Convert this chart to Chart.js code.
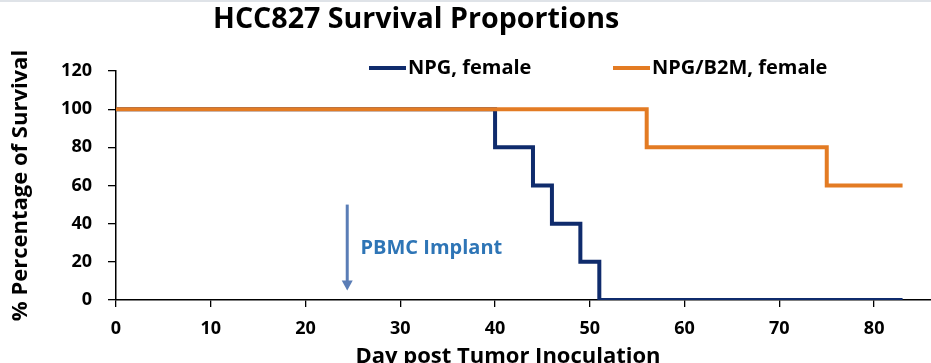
<!DOCTYPE html>
<html><head><meta charset="utf-8">
<script src="https://cdn.jsdelivr.net/npm/chart.js@4/dist/chart.umd.min.js"></script>
<style>
html,body{margin:0;padding:0;overflow:hidden;background:#fff}
#wrap{width:931px;height:374px;position:relative}
canvas{display:block}
</style>
</head><body><div id="wrap"><canvas id="c" width="931" height="374"></canvas></div>
<script>
const chartTitle = 'HCC827 Survival Proportions';
const xAxisTitle = 'Day post Tumor Inoculation';
const yAxisTitle = '% Percentage of Survival';
const seriesNames = ['NPG, female', 'NPG/B2M, female'];
const npgDays = [0, 40, 44, 46, 49, 51, 83];
const npgSurvival = [100, 80, 60, 40, 20, 0, 0];
const b2mDays = [0, 56, 75, 83];
const b2mSurvival = [100, 80, 60, 60];
const xTicks = [0, 10, 20, 30, 40, 50, 60, 70, 80];
const yTicks = [0, 20, 40, 60, 80, 100, 120];
const annotationText = 'PBMC Implant';
const arrowDay = 24.4;
const arrowFromValue = 50;
const arrowToValue = 5;
const annotationDay = 25.8;
const annotationValue = 27;

const BLUE = '#0f2b6c';
const ORANGE = '#e37b23';
const FONT = '"Open Sans", "DejaVu Sans", sans-serif';

const overlay = {
  id: 'overlay',
  beforeDraw(chart) {
    const ctx = chart.ctx;
    ctx.save();
    ctx.fillStyle = '#ffffff';
    ctx.fillRect(0, 0, chart.width, chart.height);
    ctx.fillStyle = '#dfe3e8';
    ctx.fillRect(0, 0, chart.width, 2);
    ctx.restore();
  },
  afterDraw(chart) {
    const ctx = chart.ctx;
    const xs = chart.scales.x, ys = chart.scales.y;
    ctx.save();
    // title
    ctx.fillStyle = '#000';
    ctx.textAlign = 'left';
    ctx.textBaseline = 'alphabetic';
    ctx.font = 'bold 28.6px ' + FONT;
    ctx.fillText(chartTitle, 213, 28);
    // legend
    ctx.font = 'bold 20px ' + FONT;
    ctx.textBaseline = 'middle';
    const items = [
      {x0: 369, x1: 406, color: chart.data.datasets[0].borderColor, text: chart.data.datasets[0].label},
      {x0: 613, x1: 650, color: chart.data.datasets[1].borderColor, text: chart.data.datasets[1].label}
    ];
    items.forEach(it => {
      ctx.strokeStyle = it.color;
      ctx.lineWidth = 4;
      ctx.beginPath();
      ctx.moveTo(it.x0, 68);
      ctx.lineTo(it.x1, 68);
      ctx.stroke();
      ctx.fillStyle = '#000';
      ctx.fillText(it.text, it.x1 + 2, 68);
    });
    // x axis title
    ctx.font = 'bold 22px ' + FONT;
    ctx.textAlign = 'center';
    ctx.textBaseline = 'alphabetic';
    ctx.fillText(xAxisTitle, 508, 363);
    // arrow
    const ax = xs.getPixelForValue(arrowDay);
    const ay1 = ys.getPixelForValue(arrowFromValue);
    const ay2 = ys.getPixelForValue(arrowToValue);
    ctx.strokeStyle = '#5a7db6';
    ctx.fillStyle = '#5a7db6';
    ctx.lineWidth = 3;
    ctx.beginPath();
    ctx.moveTo(ax, ay1);
    ctx.lineTo(ax, ay2 - 9);
    ctx.stroke();
    ctx.beginPath();
    ctx.moveTo(ax - 5.5, ay2 - 10);
    ctx.lineTo(ax + 5.5, ay2 - 10);
    ctx.lineTo(ax, ay2);
    ctx.closePath();
    ctx.fill();
    // annotation text
    ctx.fillStyle = '#2e75b6';
    ctx.font = 'bold 20px ' + FONT;
    ctx.textAlign = 'left';
    ctx.textBaseline = 'middle';
    ctx.fillText(annotationText, xs.getPixelForValue(annotationDay), ys.getPixelForValue(annotationValue));
    ctx.restore();
  }
};

const toPoints = (xsArr, ysArr) => xsArr.map((v, i) => ({x: v, y: ysArr[i]}));

new Chart(document.getElementById('c'), {
  type: 'line',
  data: {
    datasets: [
      {label: seriesNames[0], data: toPoints(npgDays, npgSurvival), borderColor: BLUE, backgroundColor: BLUE,
       borderWidth: 4, stepped: true, pointRadius: 0, fill: false, order: 1, borderCapStyle: 'butt', borderJoinStyle: 'miter'},
      {label: seriesNames[1], data: toPoints(b2mDays, b2mSurvival), borderColor: ORANGE, backgroundColor: ORANGE,
       borderWidth: 4, stepped: true, pointRadius: 0, fill: false, order: 0, borderCapStyle: 'butt', borderJoinStyle: 'miter'}
    ]
  },
  options: {
    responsive: false,
    animation: false,
    layout: {padding: {top: 71, left: 0, right: 0, bottom: 0}},
    plugins: {legend: {display: false}, title: {display: false}, tooltip: {enabled: false}},
    scales: {
      x: {
        type: 'linear', min: 0, max: 86,
        afterBuildTicks: axis => { axis.ticks = xTicks.map(v => ({value: v})); },
        afterFit: axis => { axis.height = 74; },
        grid: {drawOnChartArea: false, drawTicks: true, tickLength: 7, color: '#000', lineWidth: 1.3},
        border: {display: true, color: '#000', width: 1.5},
        ticks: {color: '#000', font: {family: FONT, size: 18, weight: 'bold'}, padding: 11, maxRotation: 0, autoSkip: false},
        title: {display: false}
      },
      y: {
        min: 0, max: 120,
        afterBuildTicks: axis => { axis.ticks = yTicks.map(v => ({value: v})); },
        afterFit: axis => { axis.width = 116; },
        grid: {drawOnChartArea: false, drawTicks: true, tickLength: 8, color: '#000', lineWidth: 1.3},
        border: {display: true, color: '#000', width: 1.5},
        ticks: {color: '#000', font: {family: FONT, size: 18, weight: 'bold'}, padding: 16, autoSkip: false},
        title: {display: true, text: yAxisTitle, color: '#000', font: {family: FONT, size: 22, weight: 'bold'}, padding: {top: 8, bottom: 0}}
      }
    }
  },
  plugins: [overlay]
});
</script>
</body></html>
